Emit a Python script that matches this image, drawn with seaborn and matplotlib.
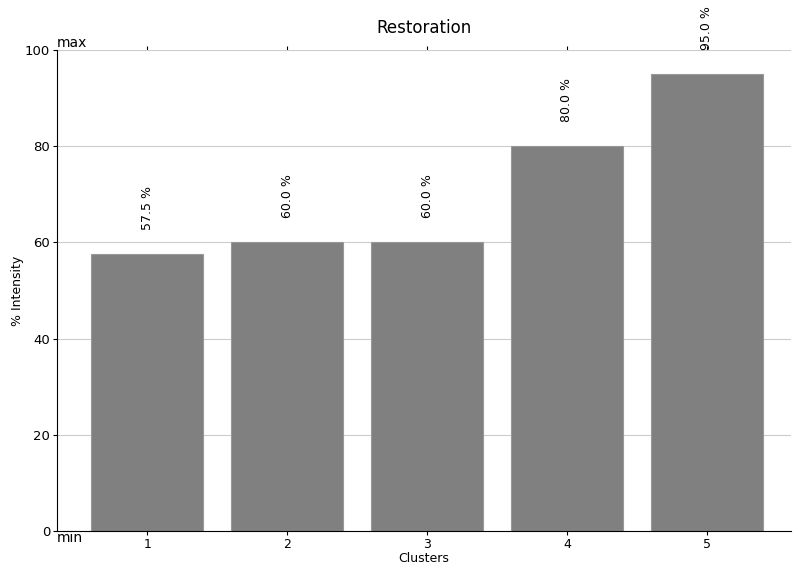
import matplotlib
matplotlib.use("Agg")
import matplotlib.pyplot as plt
import seaborn as sns
import pandas as pd

clusters = ["1", "2", "3", "4", "5"]
intensity = [57.5, 60.0, 60.0, 80.0, 95.0]

df = pd.DataFrame({"Clusters": clusters, "Intensity": intensity})

sns.set_style("white", rc={"text.color": "black", "axes.labelcolor": "black",
                           "xtick.color": "black", "ytick.color": "black",
                           "axes.edgecolor": "black"})
plt.rcParams['font.family'] = ['DejaVu Sans']

fig = plt.figure(figsize=(7.93, 5.64), dpi=100)
ax = fig.add_axes([0.072, 0.0585, 0.925, 0.853])
sns.barplot(data=df, x="Clusters", y="Intensity", color="gray", saturation=1,
            width=0.8, edgecolor="#999999", linewidth=0.8, ax=ax, zorder=2)

ax.set_xlim(-0.645, 4.6)
ax.set_ylim(0, 100)
ax.set_yticks([0, 20, 40, 60, 80, 100])
ax.yaxis.grid(True, color="#cccccc", linewidth=0.8, zorder=0)
ax.set_axisbelow(True)
for s in ["top", "right"]:
    ax.spines[s].set_visible(False)
ax.tick_params(axis="x", top=True, bottom=True, direction="out", length=3,
               width=0.8, labelsize=9, pad=2, colors="black")
ax.tick_params(axis="y", left=True, direction="out", length=3, width=0.8,
               labelsize=9.5, pad=2, colors="black")

for i, v in enumerate(intensity):
    ax.text(i, v + 5, f"{v:.1f} %", rotation=90, ha="center", va="bottom",
            fontsize=9, color="black")

ax.text(0.0, 1.0, "max", transform=ax.transAxes, ha="left", va="bottom",
        fontsize=10, color="black")
ax.text(0.0, 0.0, "min", transform=ax.transAxes, ha="left", va="top",
        fontsize=10, color="black")

ax.set_title("Restoration", fontsize=12, pad=12.5, color="black")
ax.set_xlabel("Clusters", fontsize=9, labelpad=1, color="black")
ax.set_ylabel("% Intensity", fontsize=9, labelpad=1, color="black")

fig.savefig("out.png", dpi=100)
